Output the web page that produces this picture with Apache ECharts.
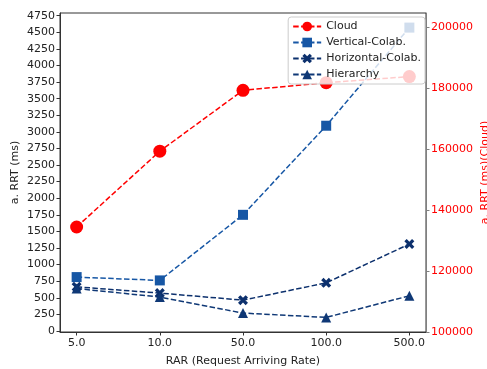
<!DOCTYPE html>
<html><head><meta charset="utf-8">
<script src="https://cdn.jsdelivr.net/npm/echarts@6/dist/echarts.min.js"></script>
<style>html,body{margin:0;padding:0;background:#fff}#c{width:487px;height:369px}</style>
</head><body><div id="c"></div>
<script>
const categories = ['5.0', '10.0', '50.0', '100.0', '500.0'];
const cloud = [134500, 159400, 179400, 181900, 183900];
const vertical = [812, 762, 1750, 3092, 4570];
const horizontal = [665, 571, 465, 725, 1310];
const hierarchy = [640, 511, 270, 205, 530];
const leftTicks = [0,250,500,750,1000,1250,1500,1750,2000,2250,2500,2750,3000,3250,3500,3750,4000,4250,4500,4750];
const rightTicks = [100000,120000,140000,160000,180000,200000];

const F = 'DejaVu Sans';
const FS = 11;
const xPath = 'path://M-3,-1.6 L-1.6,-3 L0,-1.4 L1.6,-3 L3,-1.6 L1.4,0 L3,1.6 L1.6,3 L0,1.4 L-1.6,3 L-3,1.6 L-1.4,0 Z';
const idx = categories.map((c, i) => i);
const pts = arr => arr.map((v, i) => [idx[i], v]);

const chart = echarts.init(document.getElementById('c'), null, {renderer: 'canvas'});
const mkSeries = (name, data, yi, color, symbol, size) => ({
  name, type: 'line', data: pts(data), yAxisIndex: yi,
  symbol, symbolSize: size, showSymbol: true,
  lineStyle: {color, width: 1.5, type: [5.5, 2.4]},
  itemStyle: {color, borderWidth: 0, opacity: 1},
  emphasis: {disabled: true}, animation: false
});
chart.setOption({
  animation: false,
  grid: {left: 60, right: 61, top: 13, bottom: 37, show: true, borderColor: '#333', borderWidth: 1, backgroundColor: 'transparent', containLabel: false, outerBoundsMode: 'none'},
  xAxis: {
    type: 'value', min: -0.2, max: 4.2,
    name: 'RAR (Request Arriving Rate)', nameLocation: 'middle', nameGap: 24, nameMoveOverlap: false,
    nameTextStyle: {fontFamily: F, fontSize: FS, color: '#222'},
    axisLine: {show: true, onZero: false, lineStyle: {color: '#333'}},
    axisTick: {show: true, length: 3.5, customValues: idx, lineStyle: {color: '#333'}},
    axisLabel: {customValues: idx, formatter: v => categories[Math.round(v)], fontFamily: F, fontSize: FS, color: '#222', margin: 6},
    splitLine: {show: false}
  },
  yAxis: [{
    type: 'value', min: -15, max: 4790, position: 'left',
    name: 'a. RRT (ms)', nameLocation: 'middle', nameGap: 39, nameRotate: 90, nameMoveOverlap: false,
    nameTextStyle: {fontFamily: F, fontSize: FS, color: '#222'},
    axisLine: {show: true, onZero: false, lineStyle: {color: '#333'}},
    axisTick: {show: true, length: 3.5, customValues: leftTicks, lineStyle: {color: '#333'}},
    axisLabel: {customValues: leftTicks, formatter: v => String(v), fontFamily: F, fontSize: FS, color: '#222', margin: 5},
    splitLine: {show: false}
  }, {
    type: 'value', min: 100000, max: 204800, position: 'right',
    name: 'a. RRT (ms)(Cloud)', nameLocation: 'middle', nameGap: 54, nameRotate: 90, nameMoveOverlap: false,
    nameTextStyle: {fontFamily: F, fontSize: FS, color: '#ff0000'},
    axisLine: {show: true, onZero: false, lineStyle: {color: '#808080'}},
    axisTick: {show: true, length: 3.5, customValues: rightTicks, lineStyle: {color: '#808080'}},
    axisLabel: {customValues: rightTicks, formatter: v => String(v), fontFamily: F, fontSize: FS, color: '#ff0000', margin: 5},
    splitLine: {show: false}
  }],
  legend: {
    orient: 'vertical', right: 62, top: 17, itemWidth: 28, itemHeight: 12, itemGap: 5,
    backgroundColor: 'rgba(255,255,255,0.8)', borderColor: '#cccccc', borderWidth: 1, borderRadius: 3,
    padding: [4, 4, 4, 4], z: 10,
    textStyle: {fontFamily: F, fontSize: FS, color: '#222'},
    data: ['Cloud', 'Vertical-Colab.', 'Horizontal-Colab.', 'Hierarchy']
  },
  series: [
    mkSeries('Cloud', cloud, 1, '#ff0000', 'circle', 13),
    mkSeries('Vertical-Colab.', vertical, 0, '#1757a5', 'rect', 10),
    mkSeries('Horizontal-Colab.', horizontal, 0, '#0c306d', xPath, 10),
    mkSeries('Hierarchy', hierarchy, 0, '#0f3876', 'triangle', 10)
  ]
});
</script></body></html>
